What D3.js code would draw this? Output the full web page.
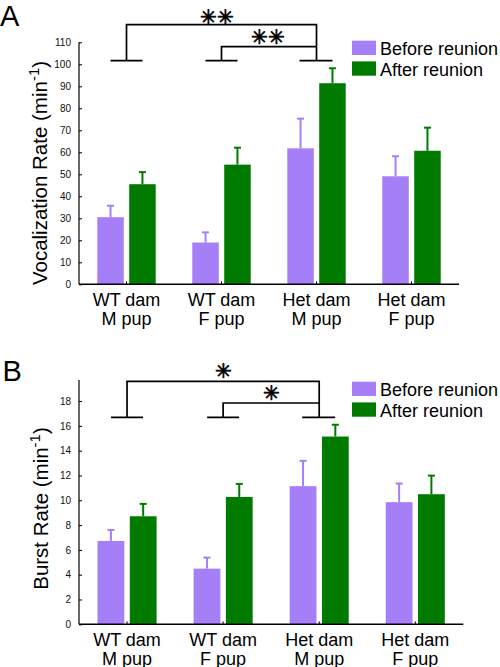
<!DOCTYPE html>
<html><head><meta charset="utf-8">
<script src="https://cdn.jsdelivr.net/npm/d3@7"></script>
<style>body{margin:0;background:#fff}svg{display:block}text{font-family:"Liberation Sans",Arial,sans-serif}</style>
</head><body>
<script>
const categories = [["WT dam","M pup"],["WT dam","F pup"],["Het dam","M pup"],["Het dam","F pup"]];
const seriesNames = ["Before reunion","After reunion"];
const colors = ["#a57ff7","#007b00"];
// Panel A: vocalization rate
const vocBefore = [30.5, 19.0, 61.8, 49.1];
const vocBeforeErr = [35.7, 23.6, 75.3, 58.2];
const vocAfter = [45.5, 54.4, 91.4, 60.7];
const vocAfterErr = [51.0, 62.1, 98.2, 71.2];
const vocTicks = [0,10,20,30,40,50,60,70,80,90,100,110];
// Panel B: burst rate
const burstBefore = [6.72, 4.49, 11.14, 9.85];
const burstBeforeErr = [7.61, 5.38, 13.18, 11.35];
const burstAfter = [8.71, 10.27, 15.14, 10.49];
const burstAfterErr = [9.71, 11.32, 16.09, 11.99];
const burstTicks = [0,2,4,6,8,10,12,14,16,18];

const svg = d3.select("body").append("svg").attr("width",500).attr("height",667);

function panel(cfg){
  const g = svg.append("g");
  const x = d3.scaleBand().domain(d3.range(categories.length)).range([79, cfg.xEnd]).padding(0);
  const y = d3.scaleLinear().domain(cfg.domain).range([cfg.y0, cfg.yTop]);
  const bw = x.bandwidth();
  const barW = bw*0.279, gap = bw*0.057;
  const xs = d3.scaleOrdinal().domain([0,1]).range([-gap/2-barW, gap/2]);
  const series = [cfg.before, cfg.after], errs = [cfg.beforeErr, cfg.afterErr];
  series.forEach((vals, s) => {
    const cx = i => x(i)+bw/2+xs(s);
    g.selectAll(null).data(vals).enter().append("line")
      .attr("x1",(d,i)=>cx(i)+barW/2).attr("x2",(d,i)=>cx(i)+barW/2)
      .attr("y1",d=>y(d)).attr("y2",(d,i)=>y(errs[s][i]))
      .attr("stroke",colors[s]).attr("stroke-width",2);
    g.selectAll(null).data(vals).enter().append("line")
      .attr("x1",(d,i)=>cx(i)+barW/2-3.5).attr("x2",(d,i)=>cx(i)+barW/2+3.5)
      .attr("y1",(d,i)=>y(errs[s][i])).attr("y2",(d,i)=>y(errs[s][i]))
      .attr("stroke",colors[s]).attr("stroke-width",2);
    g.selectAll(null).data(vals).enter().append("rect")
      .attr("x",(d,i)=>cx(i)).attr("width",barW)
      .attr("y",d=>y(d)).attr("height",d=>y(0)-y(d))
      .attr("fill",colors[s]);
  });
  // y axis
  const ya = g.append("g").attr("transform","translate(79,0)")
    .call(d3.axisLeft(y).tickValues(cfg.ticks).tickSize(-3).tickPadding(8));
  ya.select(".domain").attr("d",`M0,${cfg.y0}V${cfg.yTop}`).attr("stroke-width",1.2);
  ya.selectAll("text").attr("font-size",10).attr("font-family","Liberation Sans, Arial").attr("fill","#111");
  // x axis
  const xa = g.append("g").attr("transform",`translate(0,${cfg.y0})`)
    .call(d3.axisBottom(x).tickSize(-3).tickFormat(""));
  xa.select(".domain").attr("d",`M79,0H${cfg.xEnd}`).attr("stroke-width",1.5);
  categories.forEach((c,i)=>{
    const t = g.append("text").attr("x",x(i)+bw/2).attr("y",cfg.y0+21.7)
      .attr("text-anchor","middle").attr("font-size",18);
    t.append("tspan").attr("x",x(i)+bw/2).text(c[0]);
    t.append("tspan").attr("x",x(i)+bw/2).attr("dy",18.5).text(c[1]);
  });
  // y label
  const yl = g.append("text").attr("transform",`translate(${cfg.labelX},${cfg.labelY}) rotate(-90)`)
    .attr("text-anchor","middle").attr("font-size",20.5);
  yl.append("tspan").text(cfg.label + " (min");
  yl.append("tspan").attr("font-size",15).attr("dy",-8).text("-1");
  yl.append("tspan").attr("dy",8).text(")");
  // panel letter
  g.append("text").attr("x",cfg.letterX).attr("y",cfg.letterY).attr("font-size",29).text(cfg.letter);
  // legend
  seriesNames.forEach((n,s)=>{
    g.append("rect").attr("x",352).attr("y",cfg.legY+s*20.7-14.3).attr("width",24).attr("height",14.3).attr("fill",colors[s]);
    g.append("text").attr("x",380).attr("y",cfg.legY+s*20.7).attr("font-size",18).text(n);
  });
  // significance brackets
  const bk = cfg.brackets;
  const path = d3.path();
  const c0 = x(0)+bw/2, c1 = x(1)+bw/2, c2 = x(2)+bw/2;
  path.moveTo(c0-16, bk.foot); path.lineTo(c0+16, bk.foot);
  path.moveTo(c0, bk.foot); path.lineTo(c0, bk.outer); path.lineTo(c2, bk.outer); path.lineTo(c2, bk.foot);
  path.moveTo(c2-17, bk.foot); path.lineTo(c2+16, bk.foot);
  path.moveTo(c1-16, bk.foot); path.lineTo(c1+16, bk.foot);
  path.moveTo(c1, bk.foot); path.lineTo(c1, bk.inner); path.lineTo(c2, bk.inner);
  g.append("path").attr("d",path.toString()).attr("fill","none").attr("stroke","#000").attr("stroke-width",1.7);
  [[bk.s1x,bk.s1y],[bk.s2x,bk.s2y]].forEach(([sx,sy])=>{
    g.append("text").attr("x",sx).attr("y",sy).attr("text-anchor","middle").attr("dominant-baseline","central")
      .attr("font-family","DejaVu Sans").attr("font-size",bk.starSize)
      .attr("stroke","#000").attr("stroke-width",0.7).text(bk.stars);
  });
}

panel({xEnd:459, domain:[0,110], y0:284.3, yTop:42.3, ticks:vocTicks,
  before:vocBefore, beforeErr:vocBeforeErr, after:vocAfter, afterErr:vocAfterErr,
  label:"Vocalization Rate", labelX:46.5, labelY:173, letter:"A", letterX:0, letterY:26, legY:55,
  brackets:{outer:24.7, inner:46.7, foot:60.7, s1x:217, s1y:17, s2x:268, s2y:37, stars:"✳✳", starSize:20}});
panel({xEnd:463.3, domain:[0,19.7], y0:624.3, yTop:380, ticks:burstTicks,
  before:burstBefore, beforeErr:burstBeforeErr, after:burstAfter, afterErr:burstAfterErr,
  label:"Burst Rate", labelX:47.5, labelY:508.5, letter:"B", letterX:2.5, letterY:380.7, legY:396,
  brackets:{outer:381.3, inner:403, foot:417.3, s1x:223, s1y:370.7, s2x:271.7, s2y:393.3, stars:"✳", starSize:20}});
</script>
</body></html>
